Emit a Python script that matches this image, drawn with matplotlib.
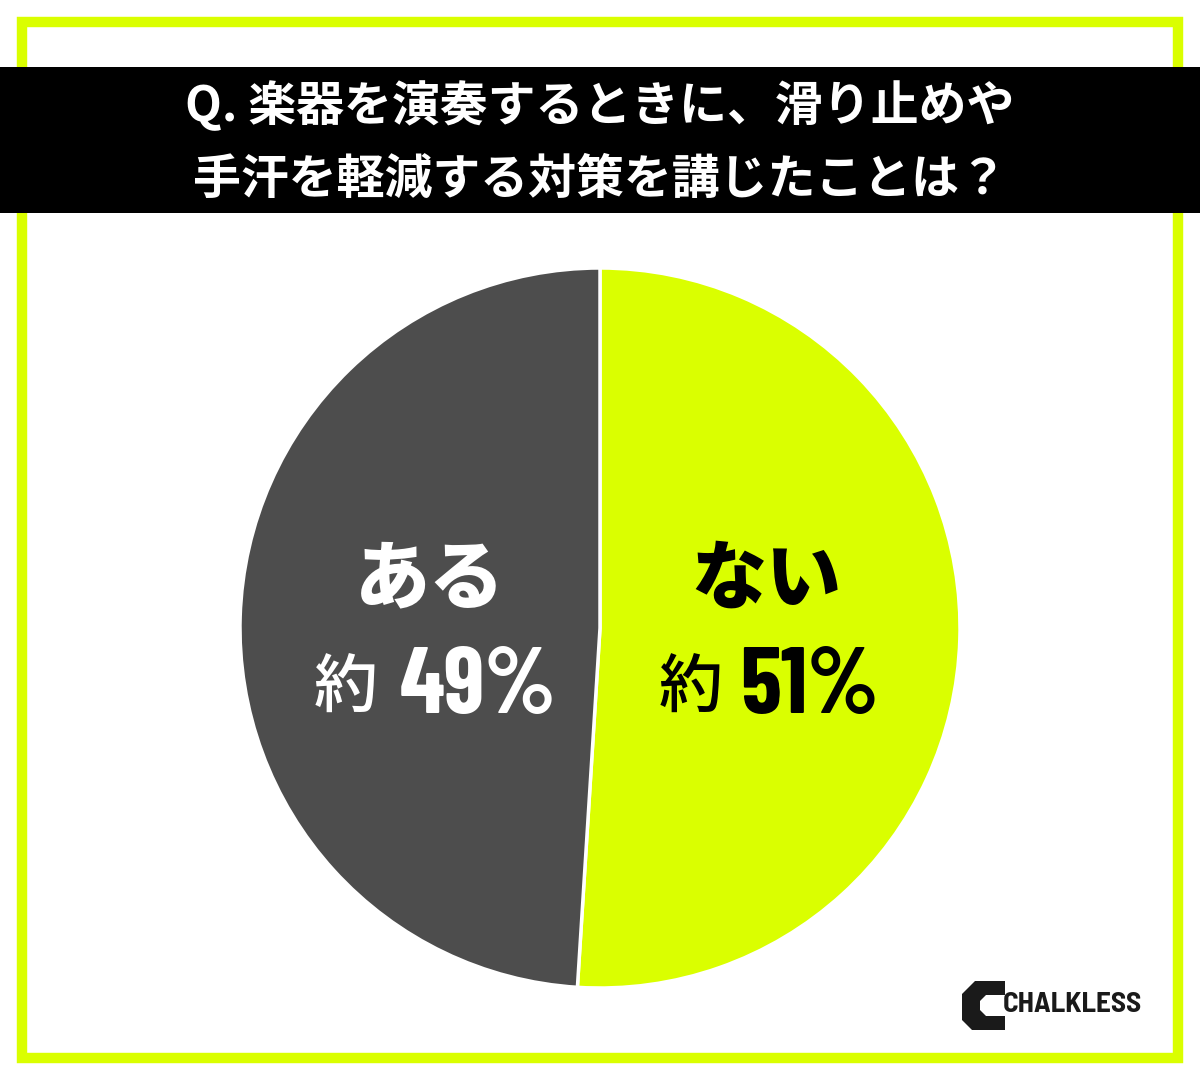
import matplotlib.pyplot as plt
from matplotlib.patches import Rectangle, Polygon

plt.rcParams['font.family'] = ['Noto Sans CJK JP', 'DejaVu Sans']

# data
labels = ['ない', 'ある']
values = [51, 49]
pct_labels = ['51%', '49%']
colors = ['#DAFF00', '#4D4D4D']
text_colors = ['#000000', '#FFFFFF']
title_lines = ['Q. 楽器を演奏するときに、滑り止めや', '手汗を軽減する対策を講じたことは？']

NUM_FONT = ['Barlow Condensed', 'DejaVu Sans']
LOGO_FONT = ['Barlow Semi Condensed', 'DejaVu Sans']

fig = plt.figure(figsize=(12, 10.8), dpi=100)
fig.patch.set_facecolor('white')

# background layer, pixel coordinates
bg = fig.add_axes([0, 0, 1, 1])
bg.set_xlim(0, 1200)
bg.set_ylim(1080, 0)
bg.axis('off')
bg.add_patch(Rectangle((22, 22), 1156, 1036, fill=False, edgecolor='#DAFF00', linewidth=7.5))
bg.add_patch(Rectangle((0, 67), 1200, 146, facecolor='black', edgecolor='none'))
for i, line in enumerate(title_lines):
    bg.text(600, 106 + i * 73, line, ha='center', va='center', color='white',
            fontsize=34.5, fontweight='bold')

# logo
bg.add_patch(Polygon([(975, 981), (1005, 981), (1005, 995), (986, 995), (980, 1001),
                      (980, 1010), (986, 1016), (1005, 1016), (1005, 1030), (972, 1030),
                      (962, 1020), (962, 994)],
                     closed=True, facecolor='#1A1A1A', edgecolor='none'))
bg.text(1003, 1005, 'CHALKLESS', ha='left', va='center', color='#1A1A1A',
        fontsize=21, fontweight='bold', family=LOGO_FONT)

# pie
ax = fig.add_axes([0.2, 92 / 1080, 0.6, 720 / 1080])
ax.pie(values, colors=colors, startangle=90, counterclock=False,
       wedgeprops=dict(edgecolor='white', linewidth=2.5))
ax.set_xlim(-1, 1)
ax.set_ylim(-1, 1)
ax.set_aspect('equal')

# labels on top of the pie
fg = fig.add_axes([0, 0, 1, 1])
fg.set_xlim(0, 1200)
fg.set_ylim(1080, 0)
fg.axis('off')
label_pos = [(766, 691, 740), (430, 346, 400)]
for lab, pct, tc, (x, xk, xp) in zip(labels, pct_labels, text_colors, label_pos):
    fg.text(x, 580, lab, ha='center', va='center', color=tc, fontsize=54, fontweight=900)
    fg.text(xk, 689, '約', ha='center', va='center', color=tc, fontsize=46, fontweight=500)
    fg.text(xp, 689, pct, ha='left', va='center', color=tc, fontsize=67,
            fontweight='bold', family=NUM_FONT)

fig.savefig('out.png', dpi=100, facecolor='white')
